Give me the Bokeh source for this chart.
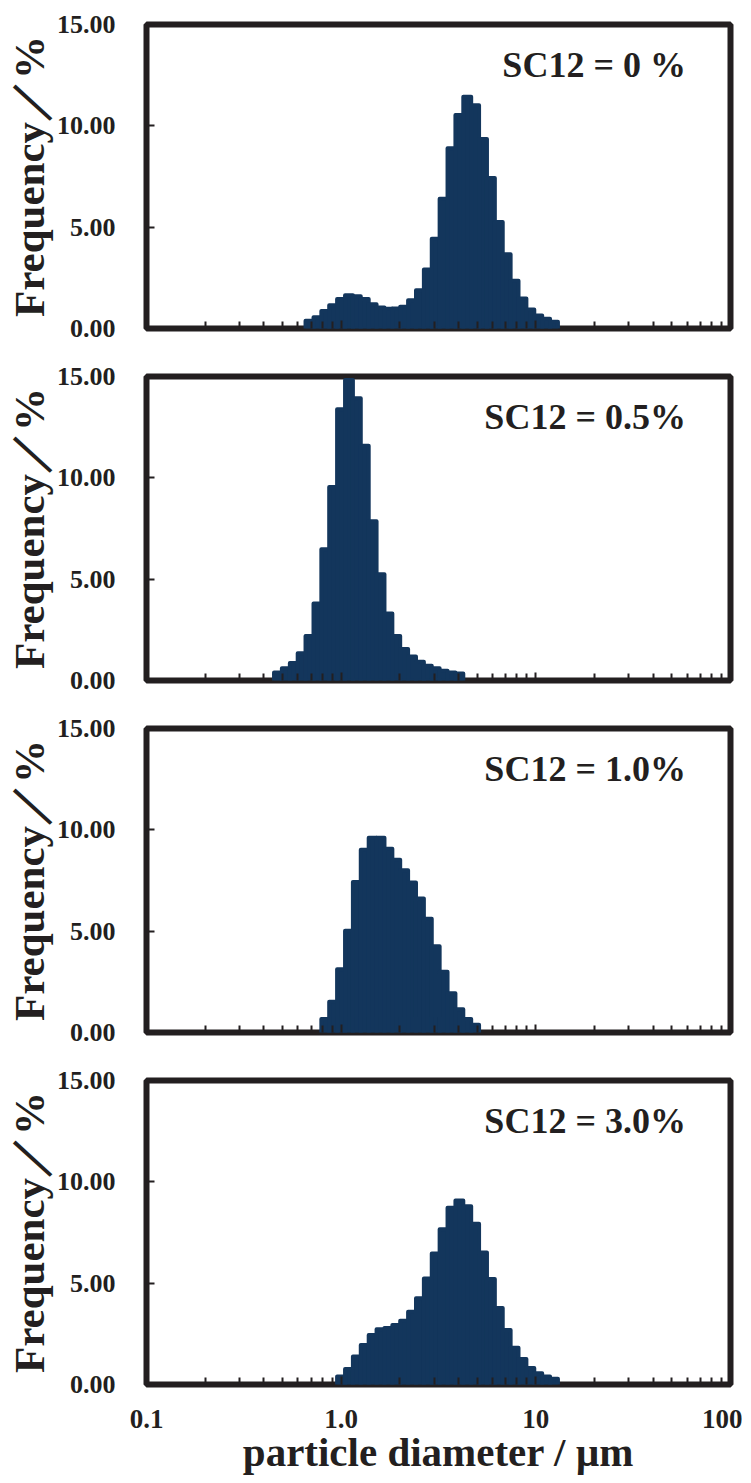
from bokeh.plotting import figure
from bokeh.layouts import column
from bokeh.models import Range1d, FixedTicker, PrintfTickFormatter, Label
from bokeh.embed import file_html
from bokeh.resources import INLINE

# Lower edges of the analyser's size channels (µm); last value closes the final bin
CHANNEL_EDGES = [0.452, 0.496, 0.545, 0.598, 0.656, 0.721, 0.791, 0.868, 0.953,
                 1.047, 1.149, 1.261, 1.385, 1.520, 1.669, 1.832, 2.010, 2.207,
                 2.423, 2.660, 2.920, 3.205, 3.519, 3.863, 4.240, 4.655, 5.110,
                 5.610, 6.158, 6.760, 7.421, 8.147, 8.943, 9.818, 10.78, 11.83, 12.99]

# Frequency (%) per channel for each SC12 dosage
FREQ_SC12_0 = [0, 0, 0, 0,
               0.38, 0.55, 0.86, 1.15, 1.45, 1.64, 1.59, 1.45, 1.20, 1.04, 0.97,
               0.99, 1.07, 1.40, 1.89, 2.91, 4.43, 6.40, 8.89, 10.53, 11.43,
               11.02, 9.35, 7.43, 5.25, 3.66, 2.35, 1.48, 0.94, 0.64, 0.48, 0.33]
FREQ_SC12_05 = [0.40, 0.61, 0.86, 1.35, 2.20, 3.80, 6.47, 9.55, 13.39, 14.83,
                13.93, 11.58, 7.86, 5.24, 3.30, 2.20, 1.55, 1.19, 0.93, 0.73,
                0.60, 0.48, 0.40, 0.35,
                0, 0, 0, 0, 0, 0, 0, 0, 0, 0, 0, 0]
FREQ_SC12_10 = [0, 0, 0, 0, 0, 0,
                0.66, 1.52, 3.12, 5.02, 7.43, 9.02, 9.61, 9.61, 9.07, 8.53,
                8.00, 7.40, 6.61, 5.61, 4.26, 3.00, 1.94, 1.15, 0.67, 0.38,
                0, 0, 0, 0, 0, 0, 0, 0, 0, 0]
FREQ_SC12_30 = [0, 0, 0, 0, 0, 0, 0, 0,
                0.39, 0.77, 1.38, 1.95, 2.44, 2.72, 2.79, 2.94, 3.15, 3.59,
                4.26, 5.23, 6.46, 7.66, 8.72, 9.08, 8.79, 7.93, 6.51, 5.20,
                3.77, 2.69, 1.81, 1.26, 0.82, 0.56, 0.39, 0.28]

PANEL_LABELS = ["SC12 = 0 %", "SC12 = 0.5%", "SC12 = 1.0%", "SC12 = 3.0%"]
SERIES = [FREQ_SC12_0, FREQ_SC12_05, FREQ_SC12_10, FREQ_SC12_30]

Y_TICKS = [0, 5, 10, 15]
X_TICKS = [0.1, 1, 10, 100]
X_TICK_LABELS = ["0.1", "1.0", "10", "100"]
X_MINOR_TICKS = [0.2, 0.3, 0.4, 0.5, 0.6, 0.7, 0.8, 0.9,
                 2, 3, 4, 5, 6, 7, 8, 9,
                 20, 30, 40, 50, 60, 70, 80, 90]

Y_LABEL = "Frequency／%"
X_LABEL = "particle diameter / µm"

# panel annotation anchor (data coords)
PANEL_LABEL_X = 59
PANEL_LABEL_Y = 13.0

BAR = "#13365C"
INK = "#231F20"
FONT = "Liberation Serif"


def make_panel(freq, text, is_bottom):
    left, right, top = [], [], []
    for i, f in enumerate(freq):
        if f > 0:
            left.append(CHANNEL_EDGES[i])
            right.append(CHANNEL_EDGES[i + 1])
            top.append(f)

    p = figure(x_axis_type="log", x_range=Range1d(0.1, 100), y_range=Range1d(0, 15),
               frame_width=584, frame_height=304,
               min_border_left=146, min_border_right=12, min_border_top=24,
               min_border_bottom=(96 if is_bottom else 24),
               output_backend="svg", toolbar_location=None)
    p.background_fill_color = "white"
    p.border_fill_color = "white"
    p.outline_line_color = INK
    p.outline_line_width = 6
    p.xgrid.visible = False
    p.ygrid.visible = False

    p.quad(left=left, right=right, bottom=0, top=top,
           fill_color=BAR, line_color=BAR, line_width=4, line_join="round")

    # y axis
    ya = p.yaxis[0]
    ya.ticker = FixedTicker(ticks=Y_TICKS)
    ya.formatter = PrintfTickFormatter(format="%.2f")
    ya.axis_line_color = None
    ya.major_tick_in = 8
    ya.major_tick_out = 0
    ya.major_tick_line_width = 2
    ya.major_tick_line_color = INK
    ya.minor_tick_line_color = None
    ya.major_label_standoff = 31
    ya.major_label_text_font = FONT
    ya.major_label_text_font_style = "bold"
    ya.major_label_text_font_size = "26px"
    ya.major_label_text_color = INK
    ya.axis_label = Y_LABEL
    ya.axis_label_standoff = 1
    ya.axis_label_text_font = FONT
    ya.axis_label_text_font_style = "bold"
    ya.axis_label_text_font_size = "43px"
    ya.axis_label_text_color = INK

    # x axis
    xa = p.xaxis[0]
    xa.ticker = FixedTicker(ticks=X_TICKS, minor_ticks=X_MINOR_TICKS)
    xa.axis_line_color = None
    xa.major_tick_in = 8
    xa.major_tick_out = 0
    xa.minor_tick_in = 7
    xa.minor_tick_out = 0
    xa.major_tick_line_width = 2
    xa.minor_tick_line_width = 2
    xa.major_tick_line_color = INK
    xa.minor_tick_line_color = INK
    if is_bottom:
        xa.major_label_overrides = dict(zip(X_TICKS, X_TICK_LABELS))
        xa.major_label_standoff = 25
        xa.major_label_text_font = FONT
        xa.major_label_text_font_style = "bold"
        xa.major_label_text_font_size = "27px"
        xa.major_label_text_color = INK
        xa.axis_label = X_LABEL
        xa.axis_label_standoff = -2
        xa.axis_label_text_font = FONT
        xa.axis_label_text_font_style = "bold"
        xa.axis_label_text_font_size = "41px"
        xa.axis_label_text_color = INK
    else:
        xa.major_label_overrides = {t: "" for t in X_TICKS}
        xa.major_label_standoff = 0
        xa.major_label_text_font_size = "0px"

    p.add_layout(Label(x=PANEL_LABEL_X, y=PANEL_LABEL_Y, text=text, text_align="right",
                       text_baseline="alphabetic", text_font=FONT,
                       text_font_style="bold", text_font_size="36px",
                       text_color=INK))
    return p


panels = [make_panel(s, t, i == 3) for i, (s, t) in enumerate(zip(SERIES, PANEL_LABELS))]
layout = column(*panels, spacing=0)

open("out.html", "w").write(file_html(layout, INLINE))
